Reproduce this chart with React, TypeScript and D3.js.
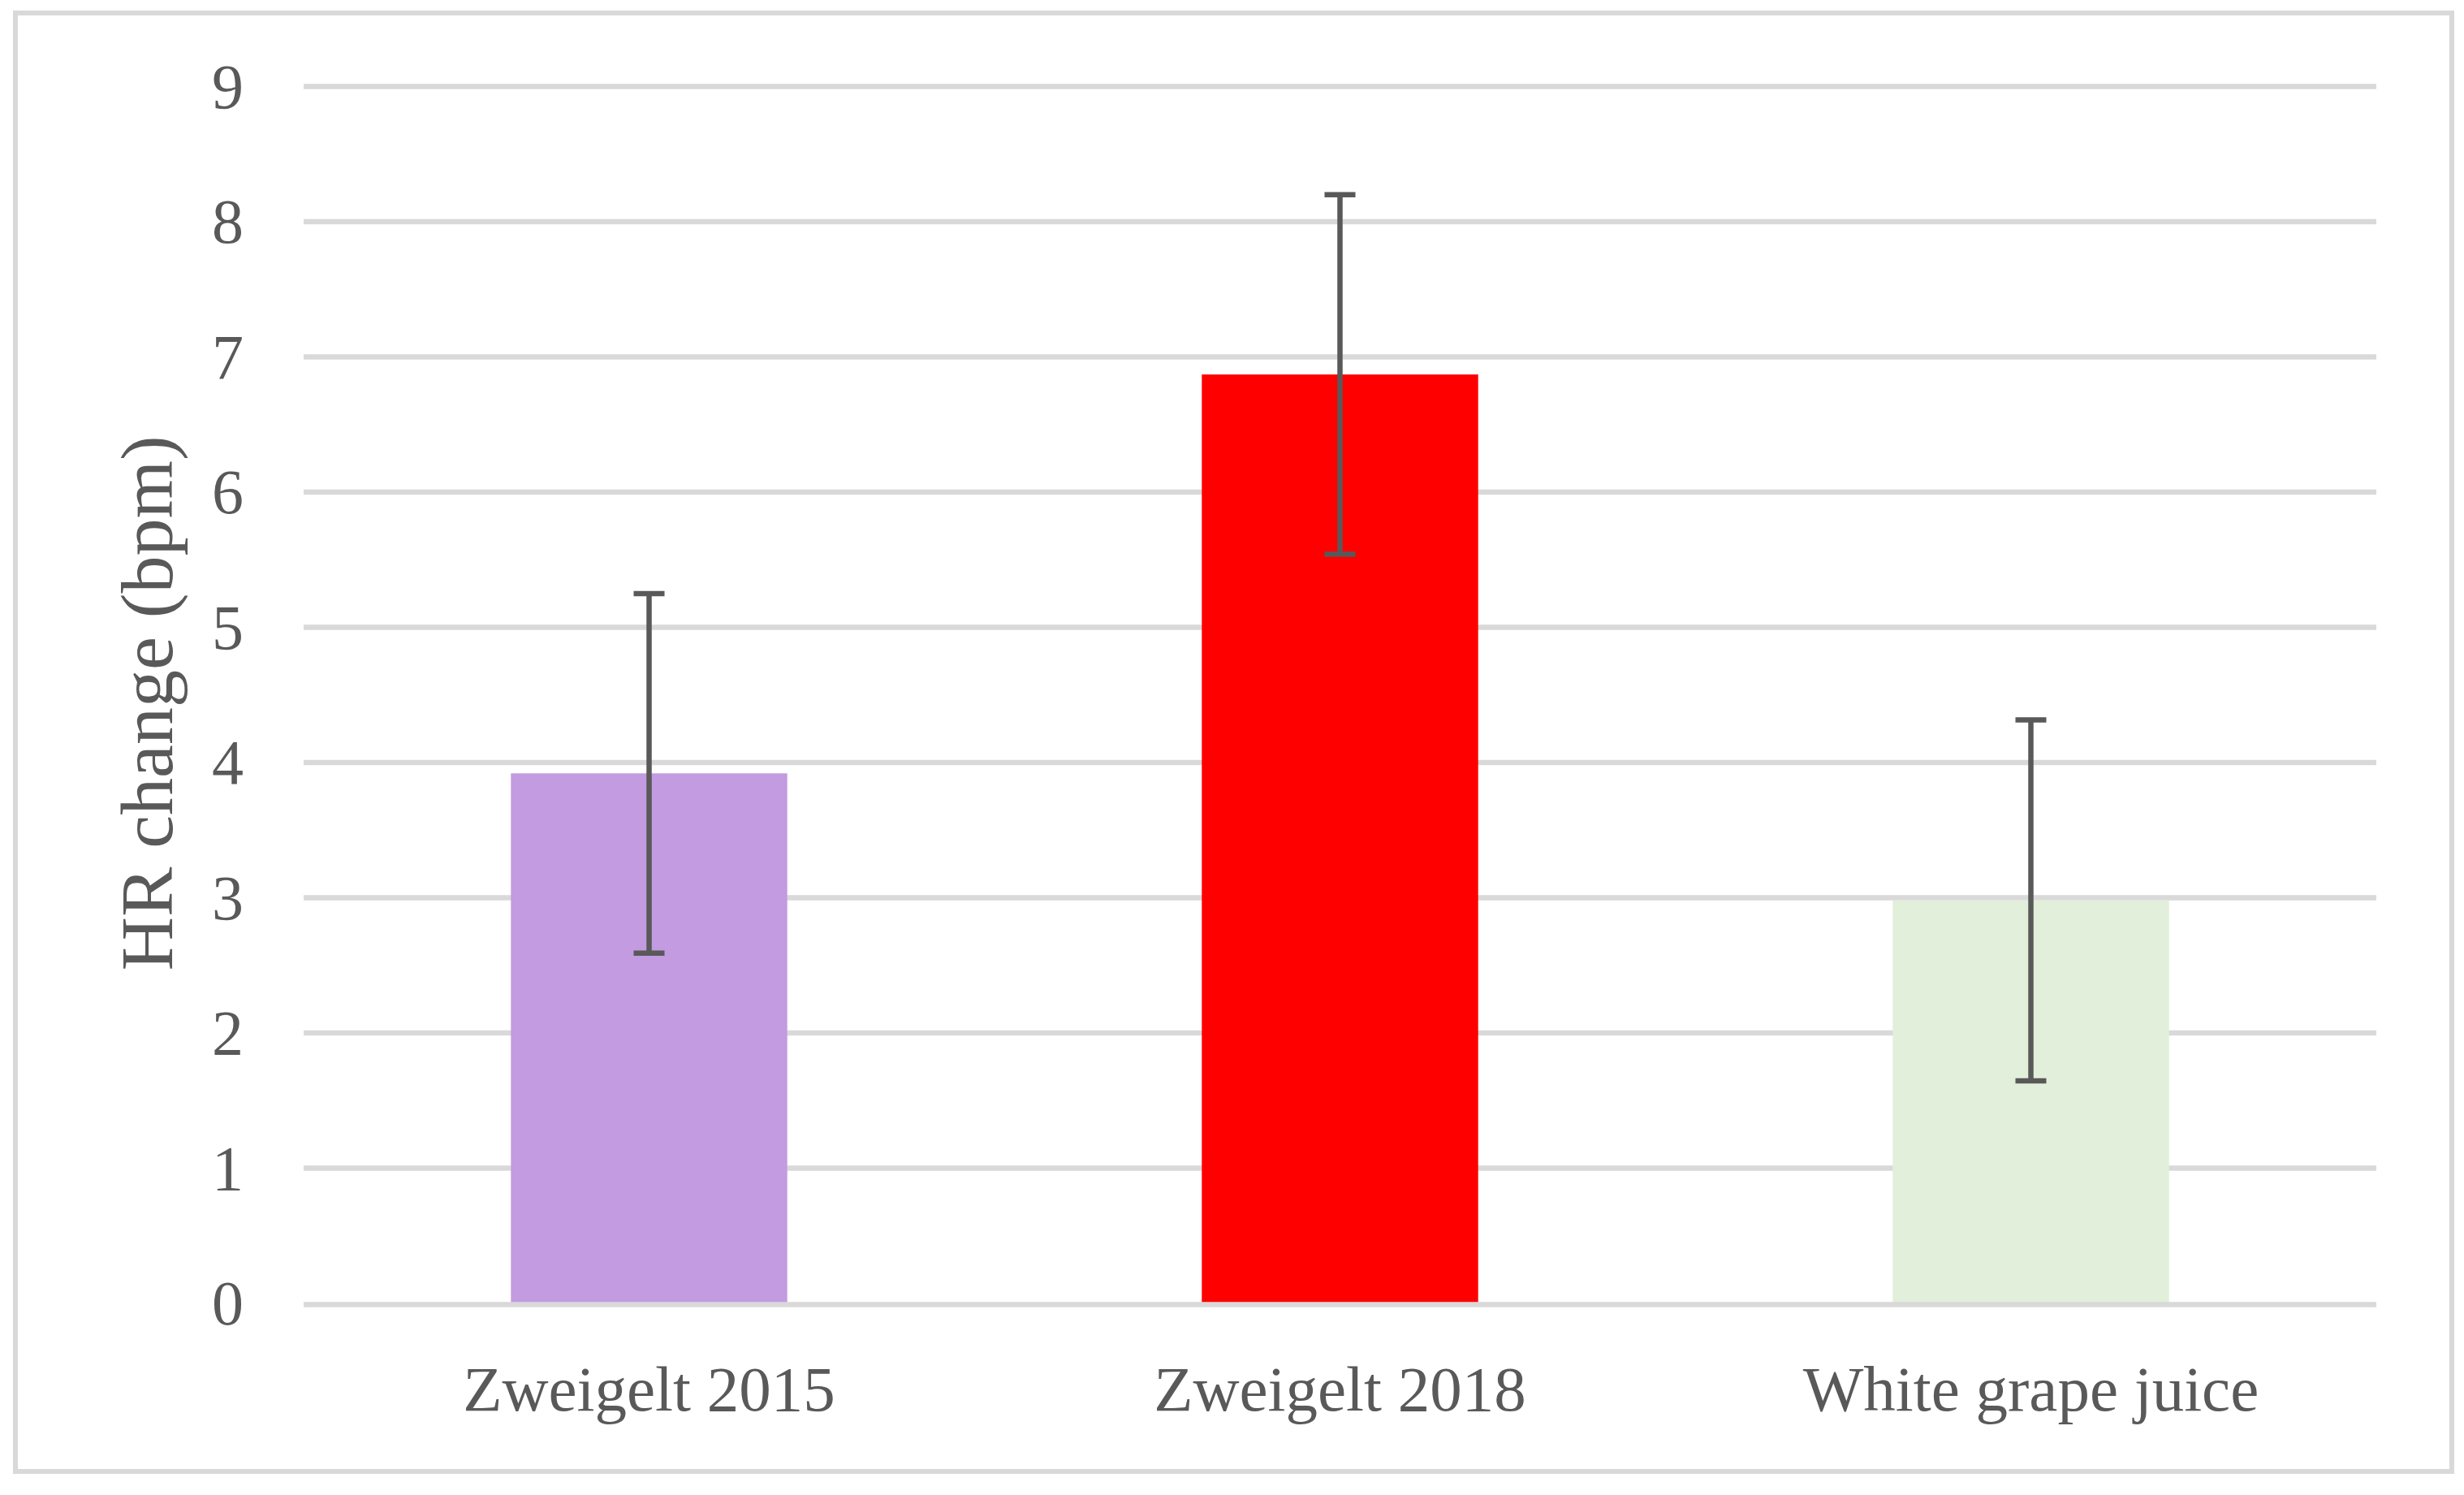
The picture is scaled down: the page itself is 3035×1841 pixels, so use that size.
import React, { useEffect, useRef } from 'react';
import * as d3 from 'd3';

const categories = ['Zweigelt 2015', 'Zweigelt 2018', 'White grape juice'];
const hrChange = [3.92, 6.87, 2.98];
const hrError = [1.33, 1.33, 1.335];
const barColors = ['#C39BE0', '#FF0000', '#E2EFDA'];
const yTicks = [0, 1, 2, 3, 4, 5, 6, 7, 8, 9];
const yTitle = 'HR change (bpm)';

const width = 3035;
const height = 1841;
const margin = { top: 106.5, right: 108, bottom: 236, left: 374 }; // plot box inside the frame

const App: React.FC = () => {
  const ref = useRef<SVGSVGElement | null>(null);

  useEffect(() => {
    if (!ref.current) return;
    const svg = d3.select(ref.current);
    svg.selectAll('*').remove();

    const font = '"Liberation Serif", "Times New Roman", serif';
    const textColor = '#595959';
    const gridColor = '#D9D9D9';

    const data = categories.map((c, i) => ({ name: c, value: hrChange[i], err: hrError[i], color: barColors[i] }));

    const x = d3.scaleBand<string>()
      .domain(categories)
      .range([margin.left, width - margin.right])
      .paddingInner(0.6)
      .paddingOuter(0.3);

    const y = d3.scaleLinear()
      .domain([0, 9])
      .range([height - margin.bottom, margin.top]);

    // outer frame
    svg.append('rect')
      .attr('x', 19)
      .attr('y', 16)
      .attr('width', 3020 - 19)
      .attr('height', 1812 - 16)
      .attr('fill', '#fff')
      .attr('stroke', gridColor)
      .attr('stroke-width', 6);

    // gridlines
    svg.append('g')
      .selectAll('line')
      .data(yTicks.filter(t => t !== 0))
      .join('line')
        .attr('x1', margin.left)
        .attr('x2', width - margin.right)
        .attr('y1', d => y(d))
        .attr('y2', d => y(d))
        .attr('stroke', gridColor)
        .attr('stroke-width', 6.5);

    // bars
    svg.append('g')
      .selectAll('rect')
      .data(data)
      .join('rect')
        .attr('x', d => x(d.name)!)
        .attr('y', d => y(d.value))
        .attr('width', x.bandwidth())
        .attr('height', d => y(0) - y(d.value))
        .attr('fill', d => d.color);

    // zero axis line on top of the bars
    svg.append('line')
      .attr('x1', margin.left)
      .attr('x2', width - margin.right)
      .attr('y1', y(0) + 1.5)
      .attr('y2', y(0) + 1.5)
      .attr('stroke', gridColor)
      .attr('stroke-width', 6.5);

    // error bars
    const eb = svg.append('g')
      .selectAll('g')
      .data(data)
      .join('g')
        .attr('transform', d => `translate(${x(d.name)! + x.bandwidth() / 2},0)`)
        .attr('stroke', textColor)
        .attr('stroke-width', 6.5);

    eb.append('line')
      .attr('x1', 0).attr('x2', 0)
      .attr('y1', d => y(d.value + d.err))
      .attr('y2', d => y(d.value - d.err));
    eb.append('line')
      .attr('x1', -19).attr('x2', 19)
      .attr('y1', d => y(d.value + d.err))
      .attr('y2', d => y(d.value + d.err));
    eb.append('line')
      .attr('x1', -19).attr('x2', 19)
      .attr('y1', d => y(d.value - d.err))
      .attr('y2', d => y(d.value - d.err));

    // y tick labels
    svg.append('g')
      .selectAll('text')
      .data(yTicks)
      .join('text')
        .attr('x', 300)
        .attr('y', d => y(d) + 26)
        .attr('text-anchor', 'end')
        .attr('fill', textColor)
        .style('font-family', font)
        .style('font-size', '78px')
        .text(d => String(d));

    // x category labels
    svg.append('g')
      .selectAll('text')
      .data(categories)
      .join('text')
        .attr('x', d => x(d)! + x.bandwidth() / 2)
        .attr('y', 1737)
        .attr('text-anchor', 'middle')
        .attr('fill', textColor)
        .style('font-family', font)
        .style('font-size', '79px')
        .text(d => d);

    // y axis title
    svg.append('text')
      .attr('transform', `translate(212,866) rotate(-90)`)
      .attr('text-anchor', 'middle')
      .attr('fill', textColor)
      .style('font-family', font)
      .style('font-size', '92px')
      .text(yTitle);
  }, []);

  return (
    <svg
      ref={ref}
      width={width}
      height={height}
      style={{ position: 'absolute', left: 0, top: 0, display: 'block', background: '#fff' }}
    />
  );
};

export default App;
